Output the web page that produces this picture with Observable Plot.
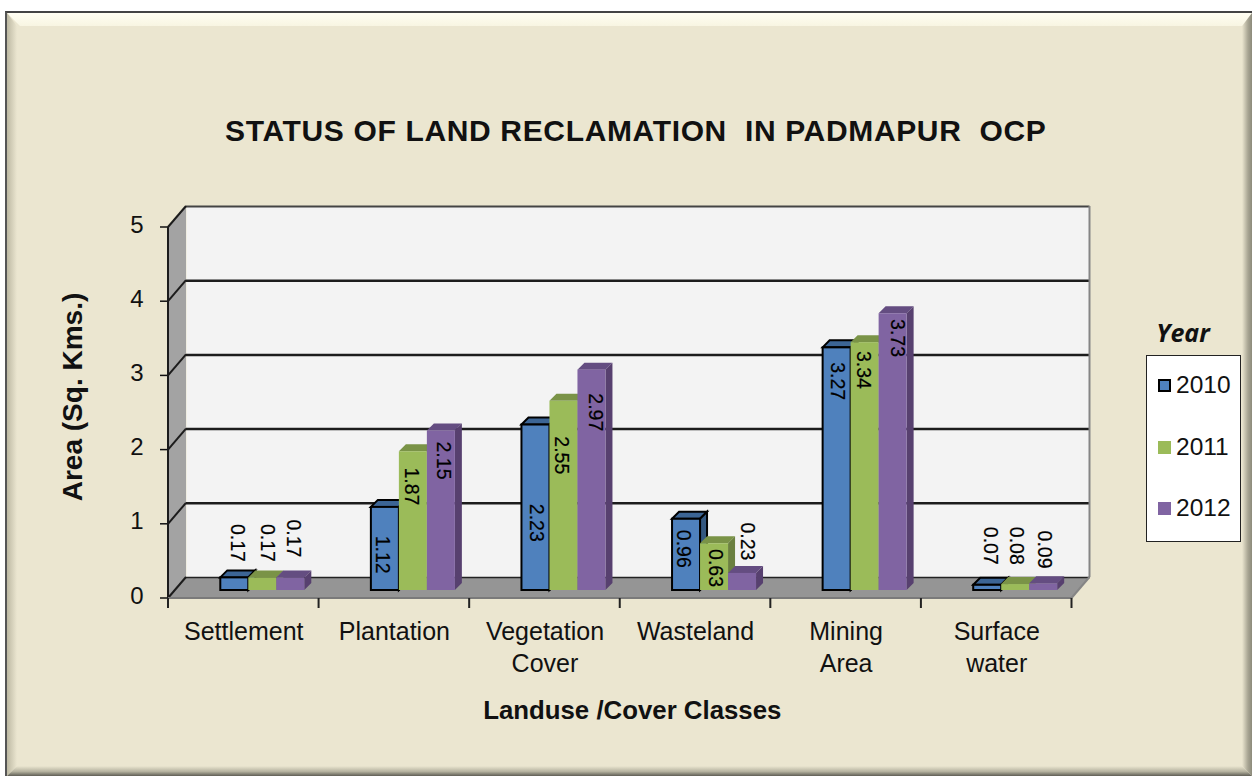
<!DOCTYPE html>
<html>
<head>
<meta charset="utf-8">
<script src="https://cdn.jsdelivr.net/npm/d3@7"></script>
<script src="https://cdn.jsdelivr.net/npm/@observablehq/plot@0.6"></script>
<style>
html,body{margin:0;padding:0;background:#fff;width:1252px;height:776px;overflow:hidden}
#page{position:relative;width:1252px;height:776px;font-family:"Liberation Sans",Arial,sans-serif}
#card{position:absolute;left:5px;top:11px;width:1247px;height:765px;background:#ebe6d0;border-left:2px solid #555;border-top:2px solid #444;box-sizing:border-box}
.bevel{position:absolute}
#chart{position:absolute;left:0;top:0}
#chart svg{background:transparent;display:block}
.ttl{letter-spacing:.65px}
#legendTitle{position:absolute;left:1120px;width:126px;top:315px;text-align:center;font:italic 700 25px "Open Sans",sans-serif;color:#111}
#legend{position:absolute;left:1146px;top:355px;width:95px;height:187px;box-sizing:border-box;background:#fff;border:1.5px solid #222}
.li{position:absolute;left:0;height:30px;line-height:30px;font-size:24.5px;color:#111}
.sw{position:absolute;left:11px;top:9px;width:13px;height:13px;box-sizing:border-box}
.li span{position:absolute;left:29px}
</style>
</head>
<body>
<div id="page">
  <div id="card"></div>
  <div class="bevel" style="left:7px;top:13px;width:1245px;height:13px;background:linear-gradient(#fffef2,#f8f5e2);clip-path:polygon(0 0,100% 0,calc(100% - 9px) 100%,13px 100%)"></div>
  <div class="bevel" style="left:7px;top:13px;width:10px;height:763px;background:linear-gradient(90deg,#bdb9a3,#ebe6d0);clip-path:polygon(0 0,100% 13px,100% calc(100% - 10px),0 100%)"></div>
  <div class="bevel" style="left:1242px;top:13px;width:10px;height:763px;background:linear-gradient(90deg,#ebe6d0,#a8a593 60%,#8c8a7b);clip-path:polygon(0 13px,100% 0,100% 100%,0 calc(100% - 10px))"></div>
  <div class="bevel" style="left:7px;top:766px;width:1245px;height:10px;background:linear-gradient(#ebe6d0,#b5b29f 55%,#5f5e55);clip-path:polygon(10px 0,calc(100% - 10px) 0,100% 100%,0 100%)"></div>
  <div id="chart"></div>
  <div id="legendTitle">Year</div>
  <div id="legend"></div>
</div>
<script>
// ---- data ----
const categories = ["Settlement", "Plantation", "Vegetation\nCover", "Wasteland", "Mining\nArea", "Surface\nwater"];
const years = ["2010", "2011", "2012"];
const values2010 = [0.17, 1.12, 2.23, 0.96, 3.27, 0.07];
const values2011 = [0.17, 1.87, 2.55, 0.63, 3.34, 0.08];
const values2012 = [0.17, 2.15, 2.97, 0.23, 3.73, 0.09];
const yTicks = [0, 1, 2, 3, 4, 5];

// where each hand-placed data label sits (in axis units) and its sideways nudge
const labelAt2010 = [0.75, 0.59, 1.02, 0.67, 2.93, 0.71];
const labelAt2011 = [0.75, 1.51, 1.93, 0.41, 3.08, 0.71];
const labelAt2012 = [0.81, 1.86, 2.51, 0.77, 3.51, 0.66];
const labelNudge2010 = [2, -3, 0, -3, 0, 3];
const labelNudge2011 = [4, -2, -3, 1, -2, 1];
const labelNudge2012 = [2, 2, 3, 5, 4, 1];

const seriesValues = [values2010, values2011, values2012];
const seriesLabelAt = [labelAt2010, labelAt2011, labelAt2012];
const seriesNudge = [labelNudge2010, labelNudge2011, labelNudge2012];

// ---- style ----
const fills = ["#4f81bd", "#9bbb59", "#8064a2"];
const tops = ["#3c6595", "#7a9347", "#644d81"];
const sides = ["#345880", "#6b8040", "#57406f"];
const FONT = '"Liberation Sans", Arial, sans-serif';
const barW = 28, gap = 19, depthX = 7, depthY = 7, barLift = 8;
const wallX = 18, wallY = 21;

const rows = i => categories.map((c, k) => ({cat: c, value: seriesValues[i][k], labelAt: seriesLabelAt[i][k], nudge: seriesNudge[i][k]}));

function walls(index, scales) {
  const g = d3.create("svg:g");
  const x0 = scales.x(categories[0]);
  const x1 = scales.x(categories[categories.length - 1]) + scales.x.bandwidth();
  const y0 = scales.y(0), y5 = scales.y(5);
  g.append("polygon").attr("points", [[x0,y0],[x0+wallX,y0-wallY],[x0+wallX,y5-wallY],[x0,y5]].join(" ")).attr("fill", "#a3a3a3");
  g.append("polygon").attr("points", [[x0,y0],[x1,y0],[x1+wallX,y0-wallY],[x0+wallX,y0-wallY]].join(" ")).attr("fill", "#959595");
  return g.node();
}

function wallLines(index, scales) {
  const g = d3.create("svg:g").attr("stroke", "#1c1c1c").attr("stroke-width", 2).attr("fill", "none");
  const x0 = scales.x(categories[0]);
  const x1 = scales.x(categories[categories.length - 1]) + scales.x.bandwidth();
  const y0 = scales.y(0), y5 = scales.y(5);
  for (const t of yTicks) {
    if (t === 0) continue;
    g.append("line").attr("x1", x0).attr("y1", scales.y(t)).attr("x2", x0 + wallX).attr("y2", scales.y(t) - wallY);
  }
  for (const t of yTicks) {
    g.append("line").attr("x1", x0 - 8).attr("y1", scales.y(t)).attr("x2", x0).attr("y2", scales.y(t)).attr("stroke", "#111").attr("stroke-width", 1.5);
  }
  g.append("line").attr("x1", x0).attr("y1", y0).attr("x2", x0).attr("y2", y5);
  g.append("line").attr("x1", x0).attr("y1", y0).attr("x2", x0 + wallX).attr("y2", y0 - wallY);
  // right edge of the back wall and the floor's corner
  g.append("line").attr("x1", x1 + wallX).attr("y1", y0 - wallY).attr("x2", x1 + wallX).attr("y2", y5 - wallY).attr("stroke", "#858585");
  g.append("line").attr("x1", x1).attr("y1", y0).attr("x2", x1 + wallX).attr("y2", y0 - wallY).attr("stroke", "#858585");
  g.append("line").attr("x1", x0).attr("y1", y0).attr("x2", x1).attr("y2", y0).attr("stroke", "#7a7a7a");
  // category boundary ticks
  const edges = categories.map(c => scales.x(c)).concat([x1]);
  for (const e of edges) g.append("line").attr("x1", e).attr("x2", e).attr("y1", y0).attr("y2", y0 + 10).attr("stroke", "#222");
  return g.node();
}

function bar3d(i) {
  const inset = (w) => (w - barW) / 2;
  const bandW = (1252 - 168 - 180.5) / categories.length;
  const black = i === 0;
  return Plot.barY(rows(i), {
    x: "cat", y: "value",
    fill: fills[i],
    stroke: black ? "#000" : "none",
    strokeWidth: 2,
    insetLeft: inset(bandW), insetRight: inset(bandW),
    dx: gap + barW * (i - 1), dy: -barLift,
    render(index, scales, values, dims, ctx, next) {
      const node = next(index, scales, values, dims, ctx);
      d3.select(node).selectAll("rect").each(function () {
        const r = d3.select(this);
        const x = +r.attr("x"), y = +r.attr("y"), w = +r.attr("width"), h = +r.attr("height");
        const parent = this.parentNode;
        const add = (pts, fill) => {
          const p = document.createElementNS("http://www.w3.org/2000/svg", "polygon");
          p.setAttribute("points", pts.join(" "));
          p.setAttribute("fill", fill);
          p.setAttribute("stroke", black ? "#000" : "none");
          p.setAttribute("stroke-width", black ? 2 : 0);
          parent.insertBefore(p, this);
        };
        add([[x,y],[x+depthX,y-depthY],[x+w+depthX,y-depthY],[x+w,y]], tops[i]);
        add([[x+w,y],[x+w+depthX,y-depthY],[x+w+depthX,y+h-depthY],[x+w,y+h]], sides[i]);
      });
      return node;
    }
  });
}

const labelMarks = years.flatMap((yr, i) => rows(i).map(d => Plot.text([d], {
  x: "cat", y: "labelAt",
  text: r => r.value.toFixed(2),
  rotate: 90,
  fontSize: 19.5,
  fontFamily: FONT,
  fill: "#000",
  stroke: "#000",
  strokeWidth: 0.2,
  dx: gap + barW * (i - 1) + d.nudge
})));

const chart = Plot.plot({
  width: 1252, height: 776,
  marginLeft: 168, marginRight: 180.5, marginTop: 227, marginBottom: 178,
  style: {background: "transparent", fontFamily: FONT, overflow: "visible"},
  x: {type: "band", domain: categories, padding: 0, round: false, label: null},
  y: {domain: [0, 5], label: null},
  marks: [
    Plot.frame({fill: "#f3f3f3", stroke: "none", dx: wallX, dy: -wallY}),
    walls,
    Plot.ruleY(yTicks.filter(t => t > 0 && t < 5), {dx: wallX, dy: -wallY, stroke: "#1c1c1c", strokeWidth: 2.5}),
    Plot.ruleY([5], {dx: wallX, dy: -wallY, stroke: "#444", strokeWidth: 2}),
    Plot.ruleY([0], {dx: wallX, dy: -wallY, stroke: "#222", strokeWidth: 1.5}),
    wallLines,
    Plot.axisY({ticks: yTicks, tickSize: 0, tickPadding: 25, dy: -2.5, tickFormat: d => d, fontSize: 24, fontFamily: FONT, fill: "#111", label: null}),
    Plot.axisX({tickSize: 0, tickPadding: 19, fontSize: 25, lineHeight: 1.28, fontFamily: FONT, fill: "#111", label: null}),
    bar3d(0), bar3d(1), bar3d(2),
    ...labelMarks,
    Plot.text(["STATUS OF LAND RECLAMATION\u00A0 IN PADMAPUR\u00A0 OCP"], {frameAnchor: "middle", dx: 15.5, dy: -281.5, fontSize: 30, fontWeight: 700, fontFamily: FONT, fill: "#111", className: "ttl"}),
    Plot.text(["Landuse /Cover Classes"], {frameAnchor: "middle", dx: 12, dy: 298, fontSize: 25.8, fontWeight: 700, fontFamily: FONT, fill: "#111"}),
    Plot.text(["Area (Sq. Kms.)"], {frameAnchor: "middle", dx: -547, dy: -16, rotate: -90, fontSize: 28, fontWeight: 700, fontFamily: FONT, fill: "#111"})
  ]
});
document.getElementById("chart").append(chart);

const legend = d3.select("#legend");
years.forEach((yr, i) => {
  const li = legend.append("div").attr("class", "li").style("top", (14 + i * 61.5) + "px").style("width", "90px");
  li.append("div").attr("class", "sw").style("background", fills[i]).style("border", i === 0 ? "2px solid #000" : "none");
  li.append("span").text(yr);
});
</script>
</body>
</html>
